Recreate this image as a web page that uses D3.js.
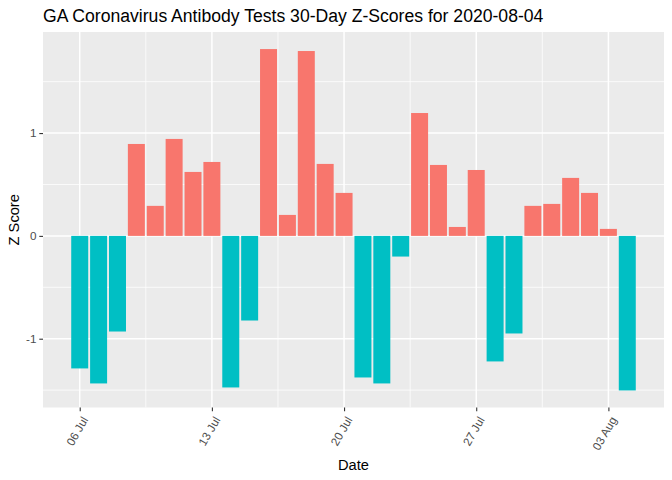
<!DOCTYPE html>
<html>
<head>
<meta charset="utf-8">
<script src="https://cdn.jsdelivr.net/npm/d3@7"></script>
<style>
  html, body { margin: 0; padding: 0; background: #ffffff; }
  svg { display: block; font-family: "Liberation Sans", Arial, sans-serif; }
</style>
</head>
<body>
<svg id="chart" width="672" height="480"></svg>
<script>
// ---- data ----
const dates = [
  "2020-07-06","2020-07-07","2020-07-08","2020-07-09","2020-07-10","2020-07-11","2020-07-12",
  "2020-07-13","2020-07-14","2020-07-15","2020-07-16","2020-07-17","2020-07-18","2020-07-19",
  "2020-07-20","2020-07-21","2020-07-22","2020-07-23","2020-07-24","2020-07-25","2020-07-26",
  "2020-07-27","2020-07-28","2020-07-29","2020-07-30","2020-07-31","2020-08-01","2020-08-02",
  "2020-08-03","2020-08-04"
];
const zScores = [
  -1.289, -1.435, -0.930, 0.894, 0.292, 0.943, 0.622,
   0.719, -1.474, -0.823, 1.817, 0.204, 1.798, 0.700,
   0.418, -1.377, -1.435, -0.201, 1.195, 0.690, 0.087,
   0.641, -1.221, -0.949, 0.292, 0.311, 0.564, 0.418,
   0.068, -1.503
];
const xTickDates = ["2020-07-06","2020-07-13","2020-07-20","2020-07-27","2020-08-03"];
const xTickLabels = ["06 Jul","13 Jul","20 Jul","27 Jul","03 Aug"];
const yTicks = [-1, 0, 1];
const yTickLabels = ["-1", "0", "1"];
const yMinorTicks = [-1.5, -0.5, 0.5, 1.5];
const title = "GA Coronavirus Antibody Tests 30-Day Z-Scores for 2020-08-04";
const xTitle = "Date";
const yTitle = "Z Score";

// ---- layout ----
const svg = d3.select("#chart");
const panel = { left: 43, right: 664, top: 32, bottom: 407.5 };
const DAY = 864e5;
const parse = d3.utcParse("%Y-%m-%d");
const data = dates.map((d, i) => ({ date: parse(d), value: zScores[i] }));

const firstT = +data[0].date - 0.45 * DAY;
const lastT = +data[data.length - 1].date + 0.45 * DAY;
const xPad = 0.05 * (lastT - firstT);
const x = d3.scaleUtc()
  .domain([new Date(firstT - xPad), new Date(lastT + xPad)])
  .range([panel.left, panel.right]);

const yMin = d3.min(zScores), yMax = d3.max(zScores);
const yPad = 0.05 * (yMax - yMin);
const y = d3.scaleLinear()
  .domain([yMin - yPad, yMax + yPad])
  .range([panel.bottom, panel.top]);

// panel background
svg.append("rect")
  .attr("x", panel.left).attr("y", panel.top)
  .attr("width", panel.right - panel.left).attr("height", panel.bottom - panel.top)
  .attr("fill", "#EBEBEB");

const grid = svg.append("g");
// minor x gridlines (midpoints between major ticks)
const majorX = xTickDates.map(parse);
const minorX = [];
for (let i = -1; i < majorX.length; i++) {
  const t = (i < 0 ? +majorX[0] - 7 * DAY : +majorX[i]) + 3.5 * DAY;
  const px = x(new Date(t));
  if (px > panel.left && px < panel.right) minorX.push(px);
}
grid.selectAll(".mx").data(minorX).enter().append("line")
  .attr("x1", d => d).attr("x2", d => d)
  .attr("y1", panel.top).attr("y2", panel.bottom)
  .attr("stroke", "#ffffff").attr("stroke-width", 0.75);
grid.selectAll(".my").data(yMinorTicks).enter().append("line")
  .attr("x1", panel.left).attr("x2", panel.right)
  .attr("y1", d => y(d)).attr("y2", d => y(d))
  .attr("stroke", "#ffffff").attr("stroke-width", 0.75);
grid.selectAll(".Mx").data(majorX).enter().append("line")
  .attr("x1", d => x(d)).attr("x2", d => x(d))
  .attr("y1", panel.top).attr("y2", panel.bottom)
  .attr("stroke", "#ffffff").attr("stroke-width", 1.5);
grid.selectAll(".My").data(yTicks).enter().append("line")
  .attr("x1", panel.left).attr("x2", panel.right)
  .attr("y1", d => y(d)).attr("y2", d => y(d))
  .attr("stroke", "#ffffff").attr("stroke-width", 1.5);

// bars
svg.append("g").selectAll("rect").data(data).enter().append("rect")
  .attr("x", d => x(new Date(+d.date - 0.45 * DAY)))
  .attr("width", d => x(new Date(+d.date + 0.45 * DAY)) - x(new Date(+d.date - 0.45 * DAY)))
  .attr("y", d => y(Math.max(0, d.value)))
  .attr("height", d => Math.abs(y(d.value) - y(0)))
  .attr("fill", d => d.value >= 0 ? "#F8766D" : "#00BFC4");

// x axis
const xAxis = d3.axisBottom(x)
  .tickValues(majorX)
  .tickFormat((d, i) => xTickLabels[i])
  .tickSize(3.7).tickPadding(0);
const gx = svg.append("g").attr("transform", `translate(0,${panel.bottom})`).call(xAxis);
gx.select(".domain").remove();
gx.selectAll(".tick line").attr("stroke", "#333333").attr("stroke-width", 1.1);
gx.selectAll(".tick text")
  .attr("fill", "#4D4D4D")
  .style("font-size", "11.7px")
  .attr("text-anchor", "end")
  .attr("y", 0)
  .attr("transform", "translate(1,8) rotate(-60)")
  .attr("dy", "0.72em");

// y axis
const yAxis = d3.axisLeft(y)
  .tickValues(yTicks)
  .tickFormat((d, i) => yTickLabels[i])
  .tickSize(3.7).tickPadding(2.9);
const gy = svg.append("g").attr("transform", `translate(${panel.left},0)`).call(yAxis);
gy.select(".domain").remove();
gy.selectAll(".tick line").attr("stroke", "#333333").attr("stroke-width", 1.1);
gy.selectAll(".tick text").attr("fill", "#4D4D4D").style("font-size", "11.7px");

// titles
svg.append("text")
  .attr("x", panel.left).attr("y", 22)
  .style("font-size", "17.6px").attr("fill", "#000000")
  .text(title);
svg.append("text")
  .attr("x", (panel.left + panel.right) / 2).attr("y", 470)
  .attr("text-anchor", "middle")
  .style("font-size", "14.67px").attr("fill", "#000000")
  .text(xTitle);
svg.append("text")
  .attr("transform", `translate(19,${(panel.top + panel.bottom) / 2}) rotate(-90)`)
  .attr("text-anchor", "middle")
  .style("font-size", "14.67px").attr("fill", "#000000")
  .text(yTitle);
</script>
</body>
</html>
